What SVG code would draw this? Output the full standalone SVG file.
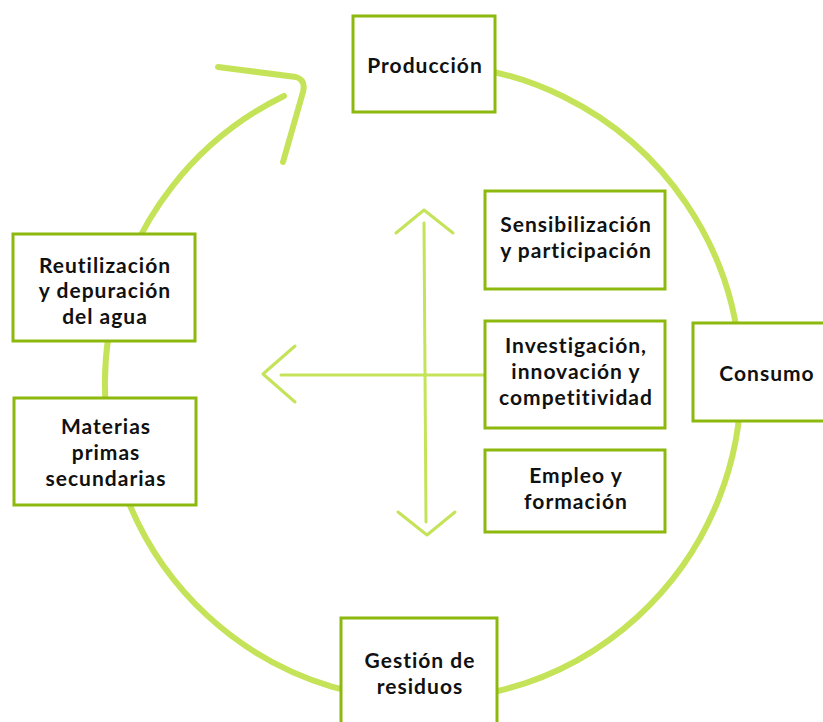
<svg xmlns="http://www.w3.org/2000/svg" width="823" height="722" viewBox="0 0 823 722">
<style>
.box{fill:#fff;stroke:#8db80e;stroke-width:3}
.t{font-family:"Lato","Open Sans","Liberation Sans",sans-serif;font-weight:700;font-size:21px;letter-spacing:1px;fill:#111;text-anchor:middle}
.cyc{fill:none;stroke:#c5e358;stroke-width:6;stroke-linecap:round;stroke-linejoin:round}
.ax{fill:none;stroke:#c5e358;stroke-width:3;stroke-linecap:round;stroke-linejoin:round}
</style>
<rect width="823" height="722" fill="#fff"/>
<g id="connectors">
<path class="cyc" d="M 424 64 A 318 318 0 1 1 284 96"/>
<path class="cyc" d="M 218 67 L 296 77 Q 306 80 303 92 L 283 162"/>
<path class="ax" d="M 424 223 L 426 522"/>
<path class="ax" d="M 396 233 L 424 210 L 453 233"/>
<path class="ax" d="M 398 512 L 427 535 L 455 512"/>
<path class="ax" d="M 485 375 L 281 375"/>
<path class="ax" d="M 295 346 L 263 374 L 295 402"/>
</g>
<g id="produccion"><rect class="box" x="353" y="16" width="142" height="96"/><text class="t" x="425" y="73">Producción</text></g>
<g id="consumo"><rect class="box" x="693" y="323" width="134" height="98"/><text class="t" x="767" y="381">Consumo</text></g>
<g id="gestion"><rect class="box" x="341" y="618" width="156" height="110"/><text class="t" x="420" y="668">Gestión de</text><text class="t" x="420" y="694">residuos</text></g>
<g id="materias"><rect class="box" x="14" y="398" width="182" height="107"/><text class="t" x="106" y="434">Materias</text><text class="t" x="106" y="460">primas</text><text class="t" x="106" y="486">secundarias</text></g>
<g id="reutilizacion"><rect class="box" x="13" y="234" width="182" height="107"/><text class="t" x="105" y="273">Reutilización</text><text class="t" x="105" y="298">y depuración</text><text class="t" x="105" y="324">del agua</text></g>
<g id="sensibilizacion"><rect class="box" x="485" y="191" width="180" height="98"/><text class="t" x="576" y="232">Sensibilización</text><text class="t" x="576" y="258">y participación</text></g>
<g id="investigacion"><rect class="box" x="485" y="321" width="180" height="107"/><text class="t" x="576" y="353">Investigación,</text><text class="t" x="576" y="379">innovación y</text><text class="t" x="576" y="405">competitividad</text></g>
<g id="empleo"><rect class="box" x="485" y="450" width="180" height="82"/><text class="t" x="576" y="483">Empleo y</text><text class="t" x="576" y="509">formación</text></g>
</svg>
